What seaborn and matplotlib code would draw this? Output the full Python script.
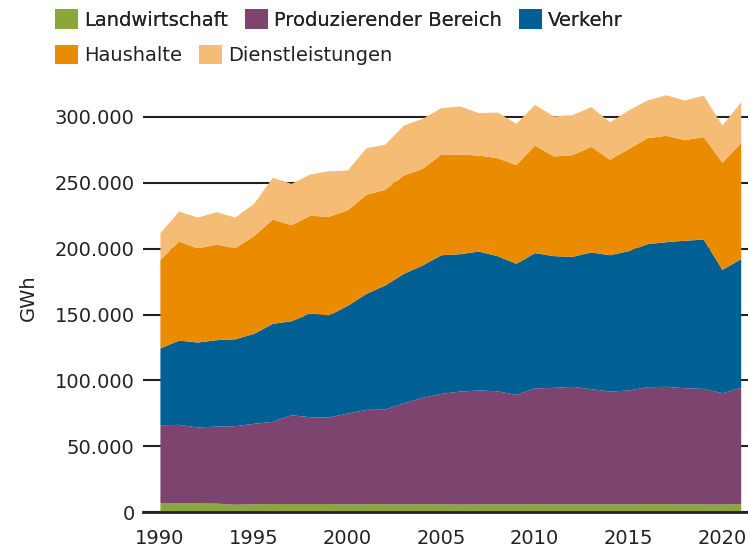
import matplotlib
matplotlib.use("Agg")
from matplotlib import pyplot as plt
from matplotlib.patches import Patch
from matplotlib.ticker import FuncFormatter
import seaborn as sns
import numpy as np

# Endenergieverbrauch nach Sektoren in GWh
years = list(range(1990, 2022))

landwirtschaft = [7000, 7000, 7000, 6800, 6000, 6300, 6500, 6500, 6500, 6500,
                  6200, 6400, 6400, 6200, 6400, 6300, 6100, 6200, 6300, 6300,
                  6400, 6200, 6300, 6400, 6200, 6300, 6400, 6400, 6300, 6200,
                  6100, 6500]
produzierend = [59300, 59600, 57600, 58500, 59600, 61100, 62400, 67400, 65900, 65700,
                69000, 71600, 71800, 76800, 80700, 83800, 85800, 86500, 85800, 83100,
                87900, 88500, 89200, 87300, 85700, 86400, 88800, 89100, 88100, 87700,
                84500, 88200]
verkehr = [58300, 64000, 64500, 65600, 66000, 68300, 74400, 71400, 78700, 77400,
           81800, 88100, 94200, 98300, 100500, 105300, 104300, 105500, 102600, 99500,
           102700, 100000, 98700, 103800, 103500, 105800, 108600, 109800, 112000, 113400,
           93700, 97700]
haushalte = [67300, 75200, 71400, 72600, 69100, 74200, 79200, 72900, 74200, 75000,
             72500, 75200, 72700, 74700, 73400, 76500, 75700, 72900, 74400, 74900,
             81700, 75700, 77200, 80200, 72500, 77500, 80500, 80800, 76400, 77800,
             81300, 88100]
dienstleistungen = [20200, 22800, 23500, 24600, 23300, 24500, 31700, 31400, 31400, 34600,
                    30200, 35400, 34200, 37900, 38000, 35200, 36500, 32200, 34700, 31400,
                    30900, 30400, 30400, 30100, 28500, 29300, 28600, 30800, 30100, 31400,
                    28300, 31100]

labels = ["Landwirtschaft", "Produzierender Bereich", "Verkehr",
          "Haushalte", "Dienstleistungen"]
colors = ["#8BA63A", "#7E4470", "#006094", "#EB8B00", "#F5BC76"]

sns.set_style("white")
plt.rcParams['font.family'] = ['DejaVu Sans']
fs = 14

fig = plt.figure(figsize=(7.48, 5.53), dpi=100)
ax = fig.add_axes([0.191, 0.074, 0.809, 0.774])

ax.stackplot(years, landwirtschaft, produzierend, verkehr, haushalte,
             dienstleistungen, colors=colors, linewidth=0, zorder=3)

ax.set_xlim(1989.09, 2021.39)
ax.set_ylim(0, 325000)
ax.set_yticks(np.arange(0, 300001, 50000))
ax.set_xticks(range(1990, 2021, 5))
ax.yaxis.set_major_formatter(FuncFormatter(lambda v, p: f"{v:,.0f}".replace(",", ".")))

ax.grid(axis='y', color='#222222', linewidth=1.5, zorder=1)
ax.grid(axis='x', visible=False)
ax.set_axisbelow(True)
for s in ['top', 'right', 'left']:
    ax.spines[s].set_visible(False)
ax.spines['bottom'].set_color('#222222')
ax.spines['bottom'].set_linewidth(2)
ax.spines['bottom'].set_zorder(5)

ax.tick_params(axis='y', length=0, pad=6, labelsize=fs, labelcolor='#222222')
ax.tick_params(axis='x', direction='out', length=7, width=1.5, color='#222222',
               pad=5, labelsize=fs, labelcolor='#222222')
ax.set_ylabel("GWh", fontsize=fs, color='#222222', labelpad=12)

handles = [Patch(facecolor=c, edgecolor='none') for c in colors]
kw = dict(frameon=False, fontsize=fs, handlelength=1.18, handleheight=1.18,
          handletextpad=0.31, columnspacing=0.88, borderpad=0, borderaxespad=0,
          loc='upper left', labelcolor='#222222')
leg1 = fig.legend(handles[:3], labels[:3], ncol=3,
                  bbox_to_anchor=(0.0735, 0.983), **kw)
fig.add_artist(leg1)
fig.legend(handles[3:], labels[3:], ncol=2,
           bbox_to_anchor=(0.0735, 0.919), **kw)

plt.savefig("out.png", dpi=100)
